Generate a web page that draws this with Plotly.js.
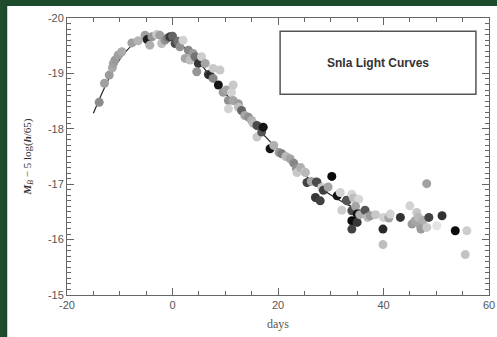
<!DOCTYPE html>
<html><head><meta charset="utf-8">
<script src="https://cdn.plot.ly/plotly-3.0.1.min.js"></script>
<style>
html,body{margin:0;padding:0;background:#fff;width:497px;height:337px;overflow:hidden;position:relative}
#chart{position:absolute;left:0;top:0;width:497px;height:337px}
#gtop{position:absolute;left:0;top:0;width:497px;height:6px;background:#1c4a2c;z-index:5}
#gleft{position:absolute;left:0;top:0;width:7px;height:337px;background:linear-gradient(90deg,#1f4f2e,#20462c);z-index:5}
#gedge{position:absolute;left:7px;top:6px;width:1px;height:331px;background:#c8d2cb;z-index:5}
</style></head>
<body>
<div id="chart"></div><div id="gtop"></div><div id="gleft"></div><div id="gedge"></div>
<script>
// Observed points: days since B maximum, corrected magnitude, grey level of the marker (one per supernova)
const days = [-13.9,-12.9,-12.0,-11.4,-11.2,-10.9,-10.3,-9.6,-7.7,-6.5,-5.2,-4.8,-3.9,-4.3,-3.0,-2.4,-2.05,-1.4,-0.9,-0.5,0.0,0.5,1.0,1.4,2.0,2.4,3.0,3.3,3.9,4.3,4.9,4.6,5.5,6.2,6.8,7.1,7.7,7.7,8.7,9.0,9.6,10.2,10.6,10.6,11.2,11.5,11.5,12.5,12.5,13.1,13.7,14.4,15.0,15.3,16.0,16.0,16.9,17.2,18.5,19.2,20.2,20.7,21.5,22.3,23.0,23.5,23.6,24.3,25.1,25.2,25.5,26.3,27.3,27.4,28.3,28.6,27.1,28.0,30.2,29.5,31.2,31.8,32.1,33.0,33.1,34.0,34.3,35.3,34.0,34.7,35.0,34.0,35.0,34.0,35.5,36.5,37.0,37.5,38.5,40.0,41.0,41.3,39.9,39.9,43.2,45.0,46.3,45.4,46.0,46.6,47.0,47.1,47.5,48.2,48.2,48.6,50.1,51.1,53.6,55.8,55.5];
const mag = [-18.48,-18.82,-18.97,-19.10,-19.18,-19.24,-19.33,-19.39,-19.55,-19.59,-19.69,-19.61,-19.66,-19.51,-19.70,-19.69,-19.54,-19.60,-19.64,-19.66,-19.67,-19.54,-19.58,-19.48,-19.60,-19.27,-19.42,-19.24,-19.36,-19.30,-19.18,-19.03,-19.30,-19.18,-18.98,-18.97,-18.91,-19.09,-18.79,-19.06,-18.66,-18.70,-18.51,-18.36,-18.66,-18.79,-18.51,-18.45,-18.39,-18.33,-18.24,-18.21,-18.15,-18.10,-18.06,-17.85,-17.94,-18.03,-17.64,-17.70,-17.57,-17.55,-17.50,-17.46,-17.38,-17.28,-17.21,-17.30,-17.22,-17.21,-17.03,-17.05,-17.04,-17.03,-16.94,-16.89,-16.76,-16.70,-17.14,-16.95,-16.79,-16.85,-16.53,-16.71,-16.70,-16.82,-16.75,-16.73,-16.52,-16.60,-16.46,-16.34,-16.31,-16.19,-16.45,-16.53,-16.40,-16.43,-16.45,-16.40,-16.39,-16.46,-16.19,-15.91,-16.40,-16.61,-16.49,-16.28,-16.34,-16.40,-16.25,-16.19,-16.35,-16.22,-17.01,-16.40,-16.25,-16.43,-16.16,-16.16,-15.73];
const sn_grey = [140,160,155,170,160,155,160,170,160,180,160,30,150,175,200,160,190,145,125,60,100,75,115,145,210,165,135,190,155,115,55,150,205,165,65,40,135,200,20,200,155,165,145,210,210,200,165,155,190,100,165,145,175,185,75,200,85,20,20,175,155,125,185,165,135,145,200,175,210,185,65,165,65,75,200,65,55,65,10,165,20,210,205,65,85,215,190,215,75,165,20,10,55,65,175,85,185,155,200,210,165,210,40,190,50,210,200,155,165,185,165,155,175,200,160,65,228,50,10,205,195];
// Template light curve
const tmplDays = [-15,-13,-11,-9,-7,-5,-3,-1,1,3,5,7,9,11,13,15,17,19,21,23,25,27,29,31,33,35,37,39,41];
const tmplMag = [-18.28,-18.72,-19.10,-19.38,-19.56,-19.66,-19.69,-19.66,-19.56,-19.40,-19.20,-18.98,-18.75,-18.53,-18.32,-18.12,-17.92,-17.72,-17.53,-17.34,-17.17,-17.01,-16.87,-16.75,-16.64,-16.55,-16.48,-16.42,-16.38];
// Axis ticks
const xTickVals = [-20,0,20,40,60];
const xTickText = ['-20','0','20','40','60'];
const yTickVals = [-20,-19,-18,-17,-16,-15];
const yTickText = ['-20','-19','-18','-17','-16','-15'];
const legendText = 'SnIa Light Curves';

const colors = sn_grey.map(v => 'rgb(' + v + ',' + v + ',' + v + ')');

const traces = [
  {x: tmplDays, y: tmplMag, mode: 'lines', line: {color: '#222', width: 1.2, shape: 'spline'}, hoverinfo: 'skip', showlegend: false},
  {x: days, y: mag, mode: 'markers', marker: {size: 9, color: colors, line: {width: 0}}, showlegend: false}
];

const axisCommon = {
  showgrid: false, zeroline: false, showline: true, linecolor: '#666', linewidth: 1,
  mirror: 'allticks', ticks: 'inside', ticklen: 7, tickcolor: '#666', tickwidth: 1,
  tickfont: {family: 'Liberation Sans, Arial, sans-serif', size: 11, color: '#555'}
};

const layout = {
  width: 497, height: 337,
  margin: {l: 67, r: 8, t: 18, b: 42},
  paper_bgcolor: '#fff', plot_bgcolor: '#fff',
  xaxis: Object.assign({}, axisCommon, {
    range: [-20, 60], tickmode: 'array', tickvals: xTickVals, ticktext: xTickText,
    minor: {dtick: 5, tick0: 0, ticks: 'inside', ticklen: 4, tickcolor: '#666', showgrid: false},
    title: {text: 'days', font: {family: 'Liberation Serif, Times New Roman, serif', size: 12, color: '#555'}, standoff: 9}
  }),
  yaxis: Object.assign({}, axisCommon, {
    range: [-15, -20], tickmode: 'array', tickvals: yTickVals, ticktext: yTickText,
    minor: {dtick: 0.1, tick0: 0, ticks: 'inside', ticklen: 4, tickcolor: '#666', showgrid: false},
    title: {text: '<b><i>M</i></b><sub><i>B</i></sub> − 5 log(<b><i>h</i></b>/65)', font: {family: 'Liberation Serif, Times New Roman, serif', size: 11, color: '#333'}, standoff: 14}
  }),
  shapes: [
    {type: 'rect', xref: 'paper', yref: 'paper', x0: 0.505, x1: 0.969, y0: 0.7245, y1: 0.952, line: {color: '#555', width: 1.5}, fillcolor: 'rgba(0,0,0,0)'}
  ],
  annotations: [
    {xref: 'paper', yref: 'paper', x: 0.737, y: 0.838, xanchor: 'center', yanchor: 'middle', text: '<b>' + legendText + '</b>', showarrow: false,
     font: {family: 'Liberation Sans, Arial, sans-serif', size: 12, color: '#333'}}
  ]
};

Plotly.newPlot('chart', traces, layout, {displayModeBar: false, staticPlot: true});
</script>
</body></html>
